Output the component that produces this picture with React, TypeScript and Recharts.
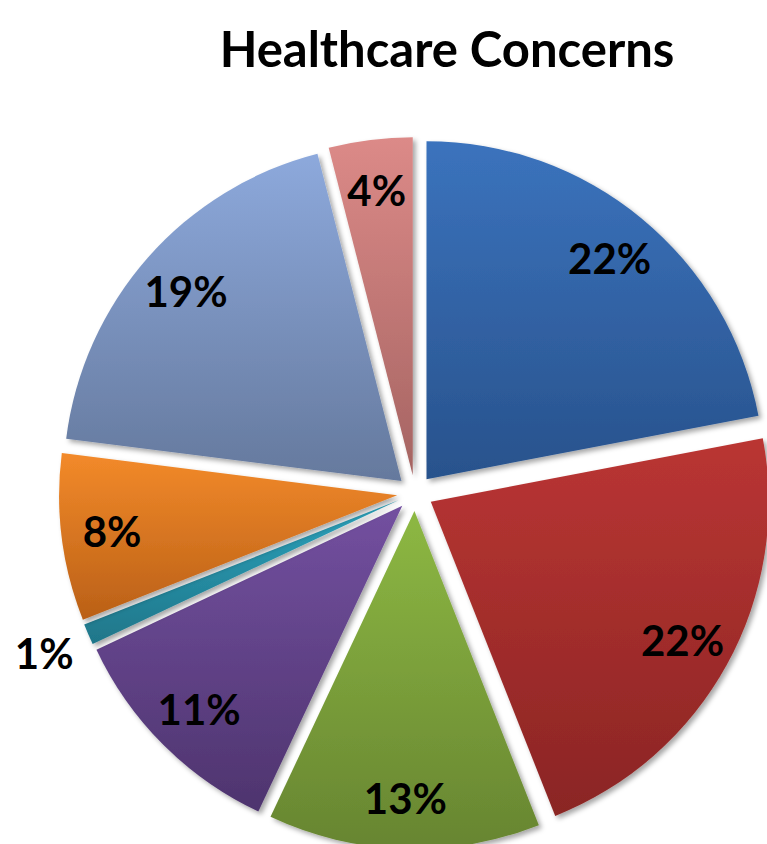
import { Cell, Pie, PieChart } from "recharts";

// slice order: clockwise from 12 o'clock
const categories = ["Concern 1", "Concern 2", "Concern 3", "Concern 4", "Concern 5", "Concern 6", "Concern 7", "Concern 8"];
const values = [22, 22, 13, 11, 1, 8, 19, 4];
const topColors = ["#3B73BD", "#BA3533", "#8DB843", "#7350A0", "#2CA3BD", "#F38A2A", "#8DA9DC", "#DC8A88"];
const bottomColors = ["#28528C", "#8A2524", "#678531", "#4E346E", "#1F7689", "#BA6017", "#65799D", "#A56462"];

const data = categories.map((name, i) => ({ name, value: values[i] }));

const CX = 410;
const CY = 488;
const R = 338;
const EXPLODE = 18;
const RAD = Math.PI / 180;
const FONT = "Lato, 'Open Sans', sans-serif";

const total = values.reduce((a, b) => a + b, 0);
let acc = 0;
const midAngles = values.map((v) => {
  const m = 90 - ((acc + v / 2) / total) * 360;
  acc += v;
  return m;
});

const makeLabel = (k: number) => (props: any) => {
  if (props.index !== k) return null;
  const { cx, cy, midAngle, outerRadius, percent } = props;
  const r = percent < 0.02 ? outerRadius + 48 : outerRadius * 0.85;
  const x = cx + r * Math.cos(-midAngle * RAD);
  const y = cy + r * Math.sin(-midAngle * RAD);
  return (
    <text x={x} y={y} textAnchor="middle" dominantBaseline="central" fill="#000" fontFamily={FONT} fontWeight={700} fontSize={42}>
      {`${Math.round(percent * 100)}%`}
    </text>
  );
};

export default function App() {
  return (
    <div style={{ position: "absolute", left: 0, top: 0, width: 767, height: 844, overflow: "hidden", background: "#fff" }}>
      <div
        style={{
          position: "absolute",
          left: 0,
          top: 19,
          width: 894,
          textAlign: "center",
          fontFamily: FONT,
          fontWeight: 700,
          fontSize: 49,
          lineHeight: "58px",
          color: "#000",
          zIndex: 2
        }}
      >
        Healthcare Concerns
      </div>
      <PieChart width={767} height={860}>
        <defs>
          {values.map((_, i) => (
            <linearGradient key={i} id={`grad${i}`} x1="0" y1="0" x2="0" y2="1">
              <stop offset="0%" stopColor={topColors[i]} />
              <stop offset="100%" stopColor={bottomColors[i]} />
            </linearGradient>
          ))}
          <filter id="shadow" x="-10%" y="-10%" width="130%" height="130%">
            <feDropShadow dx="3" dy="3" stdDeviation="2.5" floodColor="#000" floodOpacity="0.35" />
          </filter>
        </defs>
        {values.map((_, k) => (
          <Pie
            key={k}
            data={data}
            dataKey="value"
            nameKey="name"
            cx={CX + EXPLODE * Math.cos(midAngles[k] * RAD)}
            cy={CY - EXPLODE * Math.sin(midAngles[k] * RAD)}
            outerRadius={R}
            startAngle={90}
            endAngle={-270}
            stroke="none"
            label={makeLabel(k)}
            labelLine={false}
            isAnimationActive={false}
          >
            {data.map((_, i) => (
              <Cell key={i} fill={i === k ? `url(#grad${k})` : "none"} filter={i === k ? "url(#shadow)" : undefined} />
            ))}
          </Pie>
        ))}
      </PieChart>
    </div>
  );
}
